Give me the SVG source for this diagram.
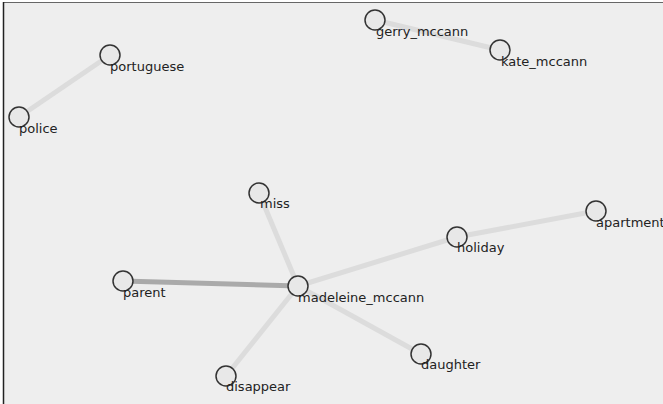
<svg xmlns="http://www.w3.org/2000/svg" width="663" height="404" viewBox="0 0 663 404">
<style>
.node circle{fill:#e8e8e8;stroke:#333;stroke-width:1.5}
.node text{font-family:"DejaVu Sans",sans-serif;font-size:13px;fill:#222}
.edges line{stroke:#dcdcdc;stroke-width:5}
.edges line.strong{stroke:#aaa}
</style>
<rect x="0" y="0" width="663" height="404" fill="#fff"/>
<rect x="3" y="2" width="660" height="402" fill="#eee"/>
<line x1="3" y1="2.5" x2="663" y2="2.5" stroke="#666" stroke-width="1"/>
<line x1="3.5" y1="2" x2="3.5" y2="404" stroke="#222" stroke-width="1.5"/>
<g class="edges">
<line x1="19" y1="117" x2="110" y2="55"/>
<line x1="375" y1="20" x2="500" y2="50"/>
<line x1="259" y1="193" x2="298" y2="286"/>
<line class="strong" x1="123" y1="281" x2="298" y2="286"/>
<line x1="298" y1="286" x2="457" y2="237"/>
<line x1="457" y1="237" x2="596" y2="211"/>
<line x1="298" y1="286" x2="226" y2="376"/>
<line x1="298" y1="286" x2="421" y2="354"/>
</g>
<g id="portuguese" class="node"><circle cx="110" cy="55" r="10"/><text x="110" y="71">portuguese</text></g>
<g id="police" class="node"><circle cx="19" cy="117" r="10"/><text x="19" y="133">police</text></g>
<g id="gerry_mccann" class="node"><circle cx="375" cy="20" r="10"/><text x="376" y="36">gerry_mccann</text></g>
<g id="kate_mccann" class="node"><circle cx="500" cy="50" r="10"/><text x="501" y="66">kate_mccann</text></g>
<g id="miss" class="node"><circle cx="259" cy="193" r="10"/><text x="260" y="208">miss</text></g>
<g id="parent" class="node"><circle cx="123" cy="281" r="10"/><text x="123" y="297">parent</text></g>
<g id="madeleine_mccann" class="node"><circle cx="298" cy="286" r="10"/><text x="298" y="302">madeleine_mccann</text></g>
<g id="holiday" class="node"><circle cx="457" cy="237" r="10"/><text x="457" y="252">holiday</text></g>
<g id="apartment" class="node"><circle cx="596" cy="211" r="10"/><text x="596" y="227">apartment</text></g>
<g id="disappear" class="node"><circle cx="226" cy="376" r="10"/><text x="226" y="391">disappear</text></g>
<g id="daughter" class="node"><circle cx="421" cy="354" r="10"/><text x="421" y="369">daughter</text></g>
</svg>
